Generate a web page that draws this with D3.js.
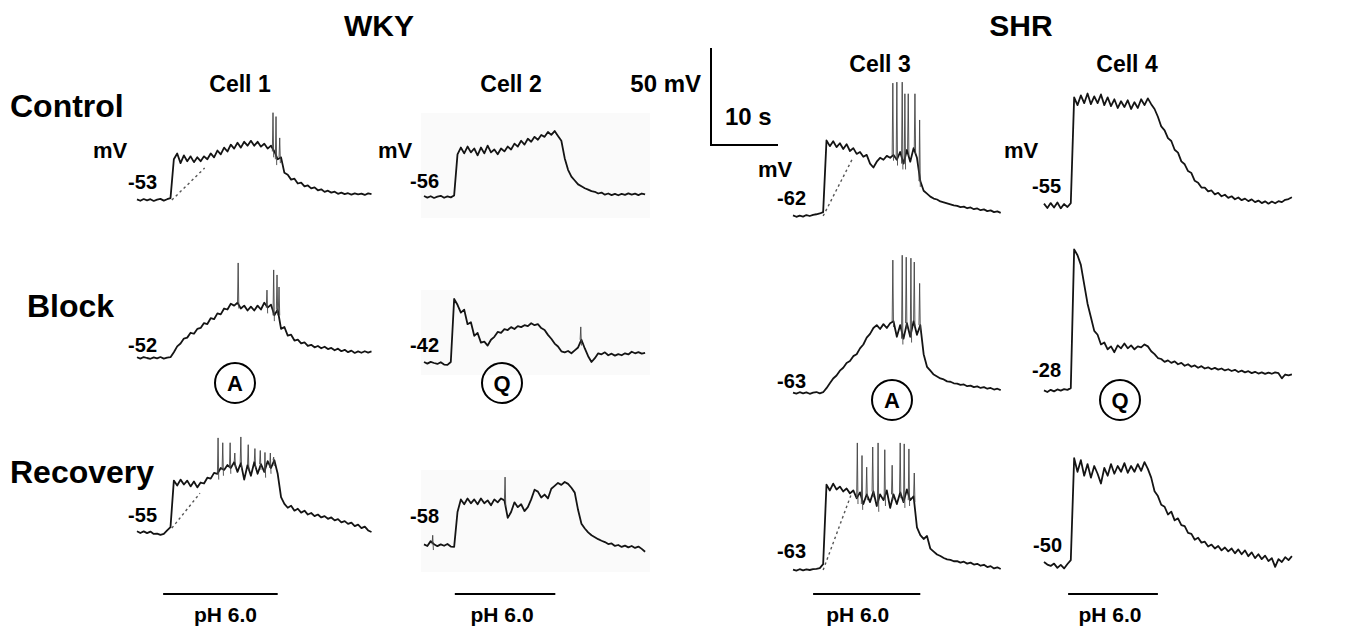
<!DOCTYPE html>
<html>
<head>
<meta charset="utf-8">
<script src="https://cdn.jsdelivr.net/npm/d3@7"></script>
<style>
  body { margin: 0; background: #fff; }
  svg { display: block; font-family: "Liberation Sans", Arial, sans-serif; font-weight: bold; }
</style>
</head>
<body>
<script>
// membrane potential traces, mV above resting level, one sample every 0.5 s
const DT = 0.5;

const c1Control = [0.3,-0.4,0.5,-0.2,0.4,-0.5,0.2,0.6,-0.3,0.4,1.0,
  21,24,19,23,20,22.5,19.5,22,20,22.5,21,24,22,25.5,23.5,27,25,28.5,26.5,29.5,27,30,28,30.5,28,30,27.5,29,26.5,28,25,21,22,
  14,13,10.5,11,8.5,9,7,7.5,6,6.5,5,5.5,4.2,4.8,3.8,4.3,3.2,3.8,3,3.5,2.8,3.4,2.9,3.3,2.6,3.4,3];
const c2Control = [0.5,-0.3,0.4,-0.5,0.2,0.6,-0.4,0.3,-0.2,0.8,
  22,25.5,22.5,26,23,25,21.5,25.5,22.5,26.5,23,24.5,22,25,23.5,26,24.5,27.5,26,29,27,30,28.5,31,29.5,32,31,33.5,32,34,31.5,29,
  20,14,10.5,8.5,6.5,5.5,4.5,3.8,3,2.7,1.8,2.3,1.2,1.8,1,1.6,0.9,1.6,1.1,1.9,1.2,1.7,1.0,1.8,1.4];
const c3Control = [0.3,-0.4,0.2,-0.3,0.5,0,0.6,0.9,1.3,2,
  39,36,38.5,35.5,37.5,34.5,37,33.5,35,32,33,30.5,31.5,27,25,28,30,29,31,30,31.5,29,33,27,34,28,35,30,
  18,13,11.5,10,9,8.5,7.5,7,6.5,6,5.5,5.2,4.6,4.8,4,4.4,3.5,3.9,3,3.4,2.5,2.9,2,2.4,1.6];
const c4Control = [1.2,-1,1.5,-0.8,1.8,-1.2,1,-0.5,1.5,
  56,52,57,53,58,52.5,56.5,53,57.5,52,56,51.5,55,50.5,54,51,54.5,50,53.5,50.5,55,52,55.5,52.5,50,
  46,41,39,35,33.5,29,27.5,23,21.5,18,17,13,12,9.5,9.5,7.5,8,6,6.8,5,5.8,4.2,5,3.5,4.4,3,3.8,2.5,3.4,2,2.8,1.5,2.4,1.2,2.3,1.4,2.5,2,3.2,3.6,4.5];

const c1Block = [0.4,-0.3,0.5,0,-0.4,0.3,-0.2,0.5,-0.3,0.2,0.4,
  3,6,7.5,10,10.5,13,12.5,15,15.5,18,17.5,20.5,20,23,22.5,25.5,25,28,27,28.5,25.5,27,24.5,26.5,24.5,27,25,28.5,26,27.5,22,25,
  15,16,11.5,12,9,9.5,7.5,8,6.2,6.8,5.5,6.2,5,5.8,4.6,5.2,4,4.8,3.5,4.2,3,3.8,2.6,3.4,2.7,3.5,2.8,3.4];
const c2Block = [0.5,-0.3,0.6,0,-0.5,0.4,-0.8,-1,0.5,
  33,30,26,27.5,20,21,14,15.5,10.5,11,9,12,13.5,16,15.5,17.5,17,18.5,17.5,19,18.5,19.5,19,20.5,19.5,20,18,17,14.5,12.5,10,8.5,
  6,5.5,6.2,5,6.5,8,12,7.5,3.5,0.5,2.5,5,4.5,5.5,4,4.8,3.8,4.6,4,5,4.4,5.8,5,5.6,4.8,5.2];
const c3Block = [0.2,-0.3,0.4,-0.2,0.3,-0.4,0.2,0.5,-0.2,0.4,
  2.5,5,7.5,9,11.5,13,15.5,16.5,19,20,23,25,28.5,30.5,33.5,35,33,35.5,33.5,36,37,29,35,28,36,29,37,30,35,
  20,13.5,11.5,9.5,8.5,7.5,7,6,5.8,5,4.8,4.2,4.4,3.5,3.8,3,3.4,2.6,3,2.2,2.6,1.8,2.2,1.5];
const c4Block = [0.3,-0.5,0.6,-0.2,0.8,0.2,1,0.6,1.5,
  73,70,65,55,45,38,31,29,24,25,21.5,23,20,23.5,22,24.5,22,23.5,21.5,23,22.5,24,23,20.5,19,17,16.5,15,15.8,14.5,15.3,13.8,14.5,
  13,13.8,12.5,13.2,12,12.8,11.6,12.2,11.2,11.9,11,11.6,10.6,11.2,10.3,10.9,9.8,10.5,9.6,10.2,9.2,9.9,9,9.6,8.8,9.5,8.9,9.6,9.2,6.5,8.5,8.1,8.6];

const c1Recovery = [0.4,-0.5,0.3,-0.6,0.2,-1,-0.8,-1.5,-1,0.8,2.5,
  26.5,24,27,24.5,26.5,23.5,26,23,25.5,25,28,27.5,30.5,30,33,32,34.5,33,36,31,35.5,27,34.5,29,36,30,35,31,36.5,33,37,30,
  18,14.5,12.5,13.5,11,12,10,11,9,9.8,8.2,9,7.5,8.2,6.8,7.5,6,6.6,5,5.6,4.2,4.8,3,3.8,2,2.8,0.8,0];
const c2Recovery = [0.3,-0.5,2,0.4,-0.6,0.3,-0.4,0.5,-0.8,-1,
  17,23.5,21,24,21.5,23.5,21,24,21.5,23,20.5,23.5,22,24,23,14,17,22,19.5,21,17.5,19.5,23.5,28.5,27.5,24.5,26,24,29,30.5,32,31,32.5,31.5,29.5,27,
  18,11,8.5,6.5,5,4,3,2.2,1.5,0.5,0.8,-0.5,0,-1,-0.3,-1.2,-0.5,-1.5,-0.8,-2,-3.5];
const c3Recovery = [0.2,-0.3,0.4,-0.2,0.3,0,0.4,0.6,1,3,
  44,41,44.5,41.5,43,40.5,42,39.5,41,37,40,34,39,35,40.5,33,39,36,41,32,39,34,40,35,41.5,36,38,
  22,18,16,17.5,11,9.5,8,7.2,6.2,5.5,5.2,4.5,4.6,3.8,4.3,3.3,3.8,2.8,3.2,2.2,2.7,1.5,2,0.8,1.4,0.5];
const c4Recovery = [0.5,-0.8,-1.5,-0.3,-2.5,-1,-2.8,-0.5,1.5,
  54,47,53,45,51,44,50,46,41,49,45,51,46,50,47,51.5,46.5,50,47,51,47.5,52,48.5,44,
  37,34.5,30,29,25,26.5,22,23,19.5,19,15.5,15,12,13,10.5,11,8.5,9.5,7.5,8.8,6.5,8,6,7.5,5,7,4.5,6.5,3.5,5.5,2.5,4.5,2,3.8,1,2.5,-2,2,0.5,3,1.5,3.5];

// action potentials: [time s, peak mV above rest]
const c1ControlSpikes = [[20.3,45],[20.75,43],[21.3,32]];
const c3ControlSpikes = [[14.9,68.5],[15.5,69],[16.3,69],[16.7,63],[17.2,63],[18.2,63],[18.9,49.5]];
const c1BlockSpikes = [[15.1,49],[19.4,35],[20.4,45.4],[20.9,42.8],[21.2,36.6]];
const c2BlockSpikes = [[23.4,18.6]];
const c3BlockSpikes = [[14.9,68.5],[16.3,71],[16.9,70],[17.6,69.5],[18.1,67.5],[18.9,56.5]];
const c1RecoverySpikes = [[12.1,48.5],[12.8,46],[13.9,46],[14.6,40.7],[15.5,49],[16.6,45],[17.6,43],[18.4,42],[19.1,41],[19.9,40.7],[20.4,38.6]];
const c2RecoverySpikes = [[1.3,5],[12.1,35]];
const c3RecoverySpikes = [[9.6,65.5],[10.3,59],[11,53],[11.9,63.4],[12.7,65.5],[13.7,62],[14.8,54],[16,65.5],[16.6,65],[17.3,62.4],[18.1,50]];

// dotted extrapolation lines: [t0, v0, t1, v1]
const c1ControlDotted = [5.2, 0, 10.1, 16.5];
const c3ControlDotted = [4.5, 0, 8.8, 29];
const c1RecoveryDotted = [5.2, 2, 9.4, 20];
const c3RecoveryDotted = [4.5, 0, 8.8, 40];

const groups = ["WKY", "SHR"];
const cells = ["Cell 1", "Cell 2", "Cell 3", "Cell 4"];
const conditions = ["Control", "Block", "Recovery"];
const restPotentials = [[-53, -56, -62, -55], [-52, -42, -63, -28], [-55, -58, -63, -50]];
const blockers = ["A", "Q", "A", "Q"];
const pHStart = [3.9, 4.6, 3.0, 3.6];
const pHEnd = [21.0, 19.6, 19.0, 17.0];
const pHLabel = "pH 6.0";

// layout
const W = 1350, H = 631;
const PX_PER_S = 6.7, PX_PER_MV = 1.94;
const colX0 = [137, 424, 793, 1044];
const baseY = [[200, 197, 216, 206], [358, 363, 393, 391], [532, 545, 570, 563]];
const restLabelPos = [
  [[157, 189], [439, 188], [806, 205], [1061, 193]],
  [[157, 352], [439, 352], [806, 388], [1061, 377]],
  [[157, 522], [439, 523], [806, 558], [1062, 552]]
];
const mvLabelPos = [[93, 158], [378, 158], [758, 177], [1004, 158]];
const circlePos = [[235, 383], [502, 383], [892, 400], [1120, 400]];

const traces = [
  { row: 0, col: 0, v: c1Control, spikes: c1ControlSpikes, dotted: c1ControlDotted },
  { row: 0, col: 1, v: c2Control, spikes: [] },
  { row: 0, col: 2, v: c3Control, spikes: c3ControlSpikes, dotted: c3ControlDotted },
  { row: 0, col: 3, v: c4Control, spikes: [] },
  { row: 1, col: 0, v: c1Block, spikes: c1BlockSpikes },
  { row: 1, col: 1, v: c2Block, spikes: c2BlockSpikes },
  { row: 1, col: 2, v: c3Block, spikes: c3BlockSpikes },
  { row: 1, col: 3, v: c4Block, spikes: [] },
  { row: 2, col: 0, v: c1Recovery, spikes: c1RecoverySpikes, dotted: c1RecoveryDotted },
  { row: 2, col: 1, v: c2Recovery, spikes: c2RecoverySpikes },
  { row: 2, col: 2, v: c3Recovery, spikes: c3RecoverySpikes, dotted: c3RecoveryDotted },
  { row: 2, col: 3, v: c4Recovery, spikes: [] }
];

const svg = d3.select("body").append("svg")
  .attr("width", W).attr("height", H)
  .attr("viewBox", [0, 0, W, H]);

svg.append("rect").attr("width", W).attr("height", H).attr("fill", "#fff");

// faint scanned backgrounds behind Cell 2 traces
[[113, 218], [290, 375], [470, 572]].forEach(([y0, y1]) => {
  svg.append("rect")
    .attr("x", 421).attr("y", y0).attr("width", 229).attr("height", y1 - y0)
    .attr("fill", "#fafafa");
});

const xScaleFor = col => d3.scaleLinear().domain([0, 10]).range([colX0[col], colX0[col] + 10 * PX_PER_S]);
const yScaleFor = (row, col) => d3.scaleLinear().domain([0, 50]).range([baseY[row][col], baseY[row][col] - 50 * PX_PER_MV]);

traces.forEach(tr => {
  const x = xScaleFor(tr.col);
  const y = yScaleFor(tr.row, tr.col);

  if (tr.dotted) {
    const [t0, v0, t1, v1] = tr.dotted;
    svg.append("line")
      .attr("x1", x(t0)).attr("y1", y(v0))
      .attr("x2", x(t1)).attr("y2", y(v1))
      .attr("stroke", "#555").attr("stroke-width", 1.4)
      .attr("stroke-dasharray", "2.5,3");
  }

  const line = d3.line()
    .x((d, i) => x(i * DT))
    .y(d => y(d));

  svg.append("path")
    .attr("d", line(tr.v))
    .attr("fill", "none")
    .attr("stroke", "#141414")
    .attr("stroke-width", 1.8)
    .attr("stroke-linejoin", "round");

  const spikeLine = d3.line().x(d => x(d[0])).y(d => y(d[1]));
  tr.spikes.forEach(([t, peak]) => {
    const base = tr.v[Math.min(tr.v.length - 1, Math.round(t / DT))];
    svg.append("path")
      .attr("d", spikeLine([[t - 0.1, base], [t, peak], [t + 0.1, base - 3]]))
      .attr("fill", "none")
      .attr("stroke", "#444")
      .attr("stroke-width", 0.9);
  });
});

// group titles
svg.append("text").attr("x", 379).attr("y", 36).attr("text-anchor", "middle")
  .style("font-size", "30px").text(groups[0]);
svg.append("text").attr("x", 1021).attr("y", 36).attr("text-anchor", "middle")
  .style("font-size", "30px").text(groups[1]);

// cell titles
const cellTitlePos = [[240, 92], [511, 92], [880, 72], [1127, 72]];
cells.forEach((c, i) => {
  svg.append("text")
    .attr("x", cellTitlePos[i][0]).attr("y", cellTitlePos[i][1])
    .attr("text-anchor", "middle").style("font-size", "23px").text(c);
});

// condition labels
const condPos = [[10, 117], [27, 317], [10, 483]];
conditions.forEach((c, i) => {
  svg.append("text").attr("x", condPos[i][0]).attr("y", condPos[i][1])
    .style("font-size", "32px").text(c);
});

// mV units
mvLabelPos.forEach(([px, py]) => {
  svg.append("text").attr("x", px).attr("y", py).style("font-size", "22px").text("mV");
});

// resting potential labels
restPotentials.forEach((row, r) => {
  row.forEach((v, c) => {
    svg.append("text")
      .attr("x", restLabelPos[r][c][0]).attr("y", restLabelPos[r][c][1])
      .attr("text-anchor", "end").style("font-size", "20px").text(v);
  });
});

// blocker markers
blockers.forEach((b, i) => {
  const [cx, cy] = circlePos[i];
  svg.append("circle").attr("cx", cx).attr("cy", cy).attr("r", 20)
    .attr("fill", "none").attr("stroke", "#000").attr("stroke-width", 2);
  svg.append("text").attr("x", cx).attr("y", cy + 8)
    .attr("text-anchor", "middle").style("font-size", "22px").text(b);
});

// pH 6.0 application bars
const pHTextShift = [5, -3, -9, -3];
pHStart.forEach((s, i) => {
  const x = xScaleFor(i);
  svg.append("line")
    .attr("x1", x(s)).attr("x2", x(pHEnd[i]))
    .attr("y1", 594).attr("y2", 594)
    .attr("stroke", "#000").attr("stroke-width", 2);
  svg.append("text")
    .attr("x", (x(s) + x(pHEnd[i])) / 2 + pHTextShift[i]).attr("y", 622)
    .attr("text-anchor", "middle").style("font-size", "21px").text(pHLabel);
});

// scale bar: 50 mV / 10 s
const sbX = d3.scaleLinear().domain([0, 10]).range([711, 711 + 10 * PX_PER_S]);
const sbY = d3.scaleLinear().domain([0, 50]).range([145, 145 - 50 * PX_PER_MV]);
svg.append("path")
  .attr("d", `M${sbX(0)},${sbY(50)}V${sbY(0)}H${sbX(10)}`)
  .attr("fill", "none").attr("stroke", "#000").attr("stroke-width", 2);
svg.append("text").attr("x", 701).attr("y", 92).attr("text-anchor", "end")
  .style("font-size", "24px").text("50 mV");
svg.append("text").attr("x", 725).attr("y", 125)
  .style("font-size", "24px").text("10 s");
</script>
</body>
</html>
